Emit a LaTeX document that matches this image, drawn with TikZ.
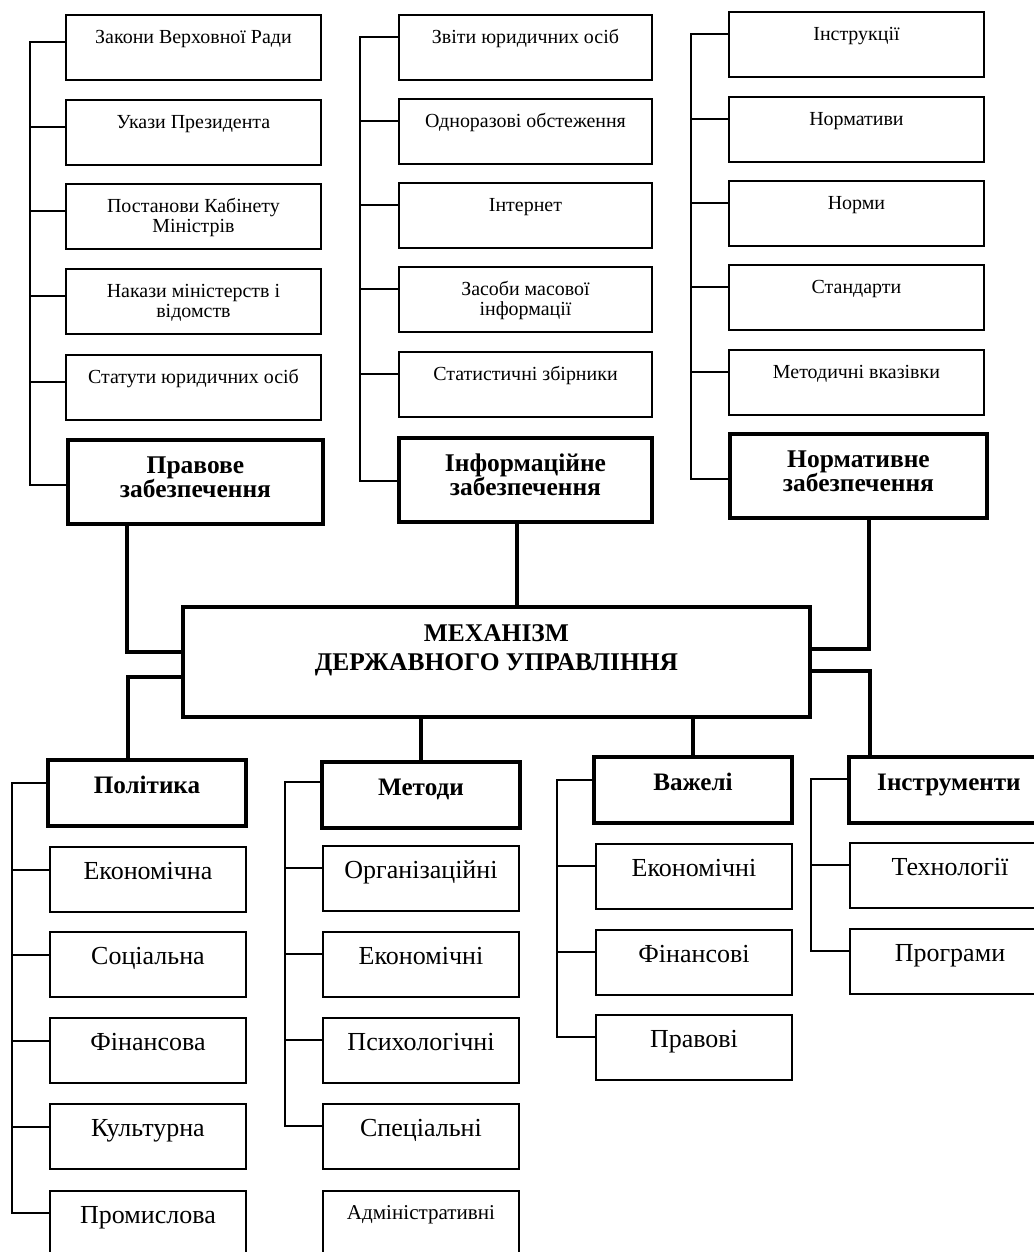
\documentclass[tikz,border=0pt]{standalone}
\usepackage{fontspec}
\setmainfont{Liberation Serif}

\begin{document}
\begin{tikzpicture}[x=0.02cm, y=-0.02cm,
    item/.style={draw, line width=0.8pt, inner sep=0pt, outer sep=0pt, anchor=north west, align=center,
        minimum width=5.1cm, text height=0.56cm, text depth=0.74cm, font=\fontsize{11.35}{11.95}\selectfont},
    twoline/.style={text height=0.98cm, text depth=0.32cm},
    head/.style={item, line width=2.4pt, text height=1.16cm, text depth=0.52cm,
        font=\bfseries\fontsize{14.5}{14.2}\selectfont},
    subitem/.style={item, minimum width=3.92cm, text height=0.64cm, text depth=0.66cm,
        font=\fontsize{14.8}{16}\selectfont},
    subhead/.style={item, line width=2.4pt, minimum width=3.96cm, text height=0.66cm, text depth=0.66cm,
        font=\bfseries\fontsize{14.3}{16}\selectfont},
    branch/.style={line width=0.8pt},
    link/.style={line width=1.8pt},
]
    \clip (0,0) rectangle (1034,1252);

    % Правове забезпечення
    \node[item] (zak) at (66,15) {Закони Верховної Ради};
    \node[item] (ukaz) at (66,100) {Укази Президента};
    \node[item, twoline] (post) at (66,184) {Постанови Кабінету\\Міністрів};
    \node[item, twoline] (nakaz) at (66,269) {Накази міністерств і\\відомств};
    \node[item] (stat) at (66,355) {Статути юридичних осіб};
    \node[head] (pravo) at (68,440) {Правове\\забезпечення};

    % Інформаційне забезпечення
    \node[item, minimum width=5.06cm] (zvit) at (399,15) {Звіти юридичних осіб};
    \node[item, minimum width=5.06cm] (odn) at (399,99) {Одноразові обстеження};
    \node[item, minimum width=5.06cm] (inet) at (399,183) {Інтернет};
    \node[item, twoline, minimum width=5.06cm] (zmi) at (399,267) {Засоби масової\\інформації};
    \node[item, minimum width=5.06cm] (zbir) at (399,352) {Статистичні збірники};
    \node[head, minimum width=5.06cm] (info) at (399,438) {Інформаційне\\забезпечення};

    % Нормативне забезпечення
    \node[item] (instrk) at (729,12) {Інструкції};
    \node[item] (normtv) at (729,97) {Нормативи};
    \node[item] (normy) at (729,181) {Норми};
    \node[item] (stand) at (729,265) {Стандарти};
    \node[item] (metvk) at (729,350) {Методичні вказівки};
    \node[head, minimum width=5.14cm] (norm) at (730,434) {Нормативне\\забезпечення};

    % Механізм державного управління
    \node[item, line width=2.4pt, minimum width=12.54cm, text height=1.28cm, text depth=0.92cm,
        font=\bfseries\fontsize{14.5}{17}\selectfont] (mech) at (183,607) {МЕХАНІЗМ\\ДЕРЖАВНОГО УПРАВЛІННЯ};

    % Політика
    \node[subhead] (polit) at (48,760) {Політика};
    \node[subitem] (pek) at (50,847) {Економічна};
    \node[subitem] (psoc) at (50,932) {Соціальна};
    \node[subitem] (pfin) at (50,1018) {Фінансова};
    \node[subitem] (pkul) at (50,1104) {Культурна};
    \node[subitem] (pprom) at (50,1191) {Промислова};

    % Методи
    \node[subhead] (metod) at (322,762) {Методи};
    \node[subitem] (morg) at (323,846) {Організаційні};
    \node[subitem] (mek) at (323,932) {Економічні};
    \node[subitem] (mpsy) at (323,1018) {Психологічні};
    \node[subitem] (mspec) at (323,1104) {Спеціальні};
    \node[subitem, text height=0.56cm, text depth=0.74cm, font=\fontsize{12}{14}\selectfont] (madm) at (323,1191) {Адміністративні};

    % Важелі
    \node[subhead] (vazh) at (594,757) {Важелі};
    \node[subitem] (vek) at (596,844) {Економічні};
    \node[subitem] (vfin) at (596,930) {Фінансові};
    \node[subitem] (vprav) at (596,1015) {Правові};

    % Інструменти
    \node[subhead, minimum width=4.2cm] (instr) at (849,757) {\hspace*{-0.2cm}Інструменти};
    \node[subitem, minimum width=4.2cm] (itech) at (850,843) {\hspace*{-0.2cm}Технології};
    \node[subitem, minimum width=4.2cm] (iprog) at (850,929) {\hspace*{-0.2cm}Програми};

    % Branches of the upper groups
    \draw[branch] ([yshift=-0.54cm]zak.north west) -- ++(-36,0) |- ([yshift=-0.9cm]pravo.north west);
    \draw[branch] ([yshift=-0.54cm]ukaz.north west) -- ++(-36,0);
    \draw[branch] ([yshift=-0.54cm]post.north west) -- ++(-36,0);
    \draw[branch] ([yshift=-0.54cm]nakaz.north west) -- ++(-36,0);
    \draw[branch] ([yshift=-0.54cm]stat.north west) -- ++(-36,0);

    \draw[branch] ([yshift=-0.44cm]zvit.north west) -- ++(-39,0) |- ([yshift=-0.86cm]info.north west);
    \draw[branch] ([yshift=-0.44cm]odn.north west) -- ++(-39,0);
    \draw[branch] ([yshift=-0.44cm]inet.north west) -- ++(-39,0);
    \draw[branch] ([yshift=-0.44cm]zmi.north west) -- ++(-39,0);
    \draw[branch] ([yshift=-0.44cm]zbir.north west) -- ++(-39,0);

    \draw[branch] ([yshift=-0.44cm]instrk.north west) -- ++(-38,0) |- ([yshift=-0.9cm]norm.north west);
    \draw[branch] ([yshift=-0.44cm]normtv.north west) -- ++(-38,0);
    \draw[branch] ([yshift=-0.44cm]normy.north west) -- ++(-38,0);
    \draw[branch] ([yshift=-0.44cm]stand.north west) -- ++(-38,0);
    \draw[branch] ([yshift=-0.44cm]metvk.north west) -- ++(-38,0);

    % Links to the mechanism
    \draw[link] ([xshift=-1.37cm]pravo.south) |- ([yshift=0.2cm]mech.west);
    \draw[link] ([xshift=-0.17cm]info.south) -- ([xshift=-0.17cm]info.south |- mech.north);
    \draw[link] ([xshift=0.21cm]norm.south) |- ([yshift=0.26cm]mech.east);
    \draw[link] ([yshift=-0.3cm]mech.west) -| ([xshift=-0.38cm]polit.north);
    \draw[link] (mech.south -| metod.north) -- (metod.north);
    \draw[link] (mech.south -| vazh.north) -- (vazh.north);
    \draw[link] ([yshift=-0.18cm]mech.east) -| ([xshift=0.42cm]instr.north west);

    % Branches of the lower groups
    \draw[branch] ([yshift=-0.46cm]polit.north west) -- ++(-36,0) |- ([yshift=-0.44cm]pprom.north west);
    \draw[branch] ([yshift=-0.46cm]pek.north west) -- ++(-38,0);
    \draw[branch] ([yshift=-0.46cm]psoc.north west) -- ++(-38,0);
    \draw[branch] ([yshift=-0.46cm]pfin.north west) -- ++(-38,0);
    \draw[branch] ([yshift=-0.46cm]pkul.north west) -- ++(-38,0);

    \draw[branch] ([yshift=-0.4cm]metod.north west) -- ++(-37,0) |- ([yshift=-0.44cm]mspec.north west);
    \draw[branch] ([yshift=-0.44cm]morg.north west) -- ++(-38,0);
    \draw[branch] ([yshift=-0.44cm]mek.north west) -- ++(-38,0);
    \draw[branch] ([yshift=-0.44cm]mpsy.north west) -- ++(-38,0);

    \draw[branch] ([yshift=-0.46cm]vazh.north west) -- ++(-37,0) |- ([yshift=-0.44cm]vprav.north west);
    \draw[branch] ([yshift=-0.44cm]vek.north west) -- ++(-39,0);
    \draw[branch] ([yshift=-0.44cm]vfin.north west) -- ++(-39,0);

    \draw[branch] ([yshift=-0.44cm]instr.north west) -- ++(-38,0) |- ([yshift=-0.44cm]iprog.north west);
    \draw[branch] ([yshift=-0.44cm]itech.north west) -- ++(-39,0);
\end{tikzpicture}
\end{document}
